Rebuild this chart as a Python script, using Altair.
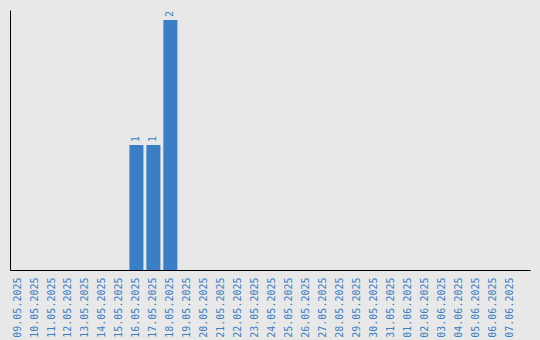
import altair as alt
import pandas as pd

dates = [
    "09.05.2025", "10.05.2025", "11.05.2025", "12.05.2025", "13.05.2025",
    "14.05.2025", "15.05.2025", "16.05.2025", "17.05.2025", "18.05.2025",
    "19.05.2025", "20.05.2025", "21.05.2025", "22.05.2025", "23.05.2025",
    "24.05.2025", "25.05.2025", "26.05.2025", "27.05.2025", "28.05.2025",
    "29.05.2025", "30.05.2025", "31.05.2025", "01.06.2025", "02.06.2025",
    "03.06.2025", "04.06.2025", "05.06.2025", "06.06.2025", "07.06.2025",
]
counts = [0, 0, 0, 0, 0, 0, 0, 1, 1, 2,
          0, 0, 0, 0, 0, 0, 0, 0, 0, 0,
          0, 0, 0, 0, 0, 0, 0, 0, 0, 0]

df = pd.DataFrame({"date": dates, "count": counts})

BLUE = "#3a7ec5"
MONO = "DejaVu Sans Mono"

x = alt.X(
    "date:N",
    sort=None,
    scale=alt.Scale(paddingInner=0.175, paddingOuter=0.4, align=0.04),
    axis=alt.Axis(
        title=None, labelAngle=270, labelColor=BLUE, labelFont=MONO,
        labelFontSize=10, ticks=False, labelPadding=7, domainColor="#000000",
        domainWidth=1, labelAlign="right", labelBaseline="middle",
    ),
)
y = alt.Y(
    "count:Q",
    scale=alt.Scale(domain=[0, 2.08], nice=False),
    axis=alt.Axis(title=None, labels=False, ticks=False, grid=False,
                  domainColor="#000000", domainWidth=1),
)

bars = alt.Chart(df).mark_bar(color=BLUE).encode(x=x, y=y)

labels = alt.Chart(df).transform_filter("datum.count > 0").mark_text(
    angle=270, align="left", baseline="middle", dx=3,
    font=MONO, fontSize=10, color=BLUE,
).encode(x=x, y=y, text="count:Q")

chart = (bars + labels).properties(
    width=520, height=260,
    background="#e8e8e8",
    padding={"left": 10, "top": 10, "right": 10, "bottom": 70},
    autosize=alt.AutoSizeParams(type="none"),
).configure_view(stroke=None, fill="#e8e8e8")

chart.save("out.html", embed_options={"renderer": "svg", "actions": False})
